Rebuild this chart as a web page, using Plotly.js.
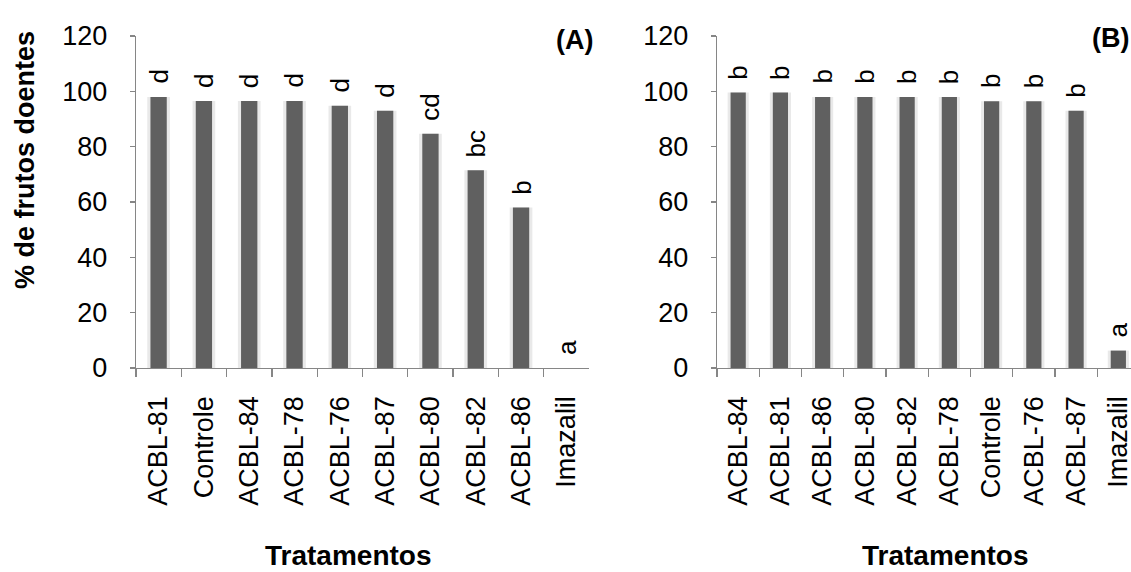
<!DOCTYPE html>
<html>
<head>
<meta charset="utf-8">
<script src="https://cdn.plot.ly/plotly-3.0.1.min.js"></script>
<style>html,body{margin:0;padding:0;background:#fff;}#chart{width:1131px;height:572px;}</style>
</head>
<body>
<div id="chart"></div>
<script>
// Panel A
const catsA = ["ACBL-81","Controle","ACBL-84","ACBL-78","ACBL-76","ACBL-87","ACBL-80","ACBL-82","ACBL-86","Imazalil"];
const valsA = [98, 96.5, 96.5, 96.5, 94.8, 93, 84.7, 71.5, 58, 0];
const lettersA = ["d","d","d","d","d","d","cd","bc","b","a"];
// Panel B
const catsB = ["ACBL-84","ACBL-81","ACBL-86","ACBL-80","ACBL-82","ACBL-78","Controle","ACBL-76","ACBL-87","Imazalil"];
const valsB = [99.6, 99.6, 98, 98, 98, 98, 96.4, 96.4, 93, 6.3];
const lettersB = ["b","b","b","b","b","b","b","b","b","a"];
const panelLabels = ["(A)", "(B)"];
const xTitle = "Tratamentos";
const yTitle = "% de frutos doentes";

const FONT = "Liberation Sans, Arial, sans-serif";
const barColor = "#606060";
const glowColor = "#e9e9e9";
const axisColor = "#868686";

function glow(x, y, xa, ya) {
  return {type:"bar", x:x, y:y, xaxis:xa, yaxis:ya, width:0.5,
    marker:{color:glowColor, line:{width:0}}, hoverinfo:"skip", showlegend:false};
}
function main(x, y, xa, ya) {
  return {type:"bar", x:x, y:y, xaxis:xa, yaxis:ya, width:0.36,
    marker:{color:barColor, line:{width:0}}, showlegend:false};
}

const data = [
  glow(catsA, valsA, "x", "y"), main(catsA, valsA, "x", "y"),
  glow(catsB, valsB, "x2", "y2"), main(catsB, valsB, "x2", "y2")
];

const annotations = [];
catsA.forEach((c, i) => annotations.push({
  x:c, y:valsA[i], xref:"x", yref:"y", text:lettersA[i], showarrow:false,
  textangle:-90, yanchor:"bottom", yshift:11, font:{family:FONT, size:26, color:"#000"}
}));
catsB.forEach((c, i) => annotations.push({
  x:c, y:valsB[i], xref:"x2", yref:"y2", text:lettersB[i], showarrow:false,
  textangle:-90, yanchor:"bottom", yshift:11, font:{family:FONT, size:26, color:"#000"}
}));
function px(x, y) { return {x:x/1131, y:1 - y/572}; }
const bold = t => "<b>" + t + "</b>";
annotations.push(Object.assign({xref:"paper", yref:"paper", text:bold(panelLabels[0]), showarrow:false,
  xanchor:"center", yanchor:"middle", font:{family:FONT, size:27, color:"#000"}}, px(574, 40)));
annotations.push(Object.assign({xref:"paper", yref:"paper", text:bold(panelLabels[1]), showarrow:false,
  xanchor:"left", yanchor:"middle", font:{family:FONT, size:27, color:"#000"}}, px(1090, 38)));
annotations.push(Object.assign({xref:"paper", yref:"paper", text:bold(xTitle), showarrow:false, borderpad:0,
  xanchor:"center", yanchor:"middle", font:{family:FONT, size:28, color:"#000"}}, px(348, 555)));
annotations.push(Object.assign({xref:"paper", yref:"paper", text:bold(xTitle), showarrow:false, borderpad:0,
  xanchor:"center", yanchor:"middle", font:{family:FONT, size:28, color:"#000"}}, px(945, 555)));
annotations.push(Object.assign({xref:"paper", yref:"paper", text:bold(yTitle), showarrow:false,
  textangle:-90, xanchor:"center", yanchor:"middle", font:{family:FONT, size:27, color:"#000"}}, px(25, 160)));

function xax(domain, range, anchor) {
  return {domain:domain, range:range, type:"category", tickangle:-90, anchor:anchor,
    showline:true, linecolor:axisColor, linewidth:1.3, ticks:"outside", tickson:"boundaries",
    ticklen:8, tickcolor:axisColor, tickwidth:1.3, showgrid:false, zeroline:false,
    tickfont:{family:FONT, size:27, color:"#000"}, ticklabelstandoff:16};
}
function yax(anchor) {
  return {domain:[0.3566, 0.937], range:[0,120], dtick:20, anchor:anchor,
    showline:true, linecolor:axisColor, linewidth:1.3, ticks:"outside", ticklen:5,
    tickcolor:axisColor, tickwidth:1.3, showgrid:false, zeroline:false,
    tickfont:{family:FONT, size:27, color:"#000"}, ticklabelstandoff:17};
}

const layout = {
  width:1131, height:572, margin:{l:0, r:0, t:0, b:0},
  paper_bgcolor:"#fff", plot_bgcolor:"#fff", barmode:"overlay",
  xaxis: xax([0.1202, 0.5208], [-0.5, 9.5], "y"),
  yaxis: yax("x"),
  xaxis2: xax([0.634, 1], [-0.5, 9.3], "y2"),
  yaxis2: yax("x2"),
  annotations: annotations
};

Plotly.newPlot("chart", data, layout, {displayModeBar:false, staticPlot:true});
</script>
</body>
</html>
